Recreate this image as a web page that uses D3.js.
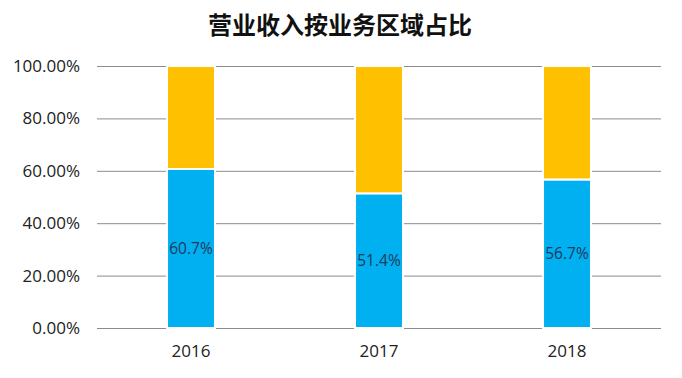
<!DOCTYPE html>
<html>
<head>
<meta charset="utf-8">
<script src="https://cdn.jsdelivr.net/npm/d3@7"></script>
<style>
  body { margin: 0; background: #fff; }
</style>
</head>
<body>
<div id="chart"></div>
<script>
const years = ["2016", "2017", "2018"];
const domestic = [60.7, 51.4, 56.7]; // blue segment, %
const other = [39.3, 48.6, 43.3];    // orange segment, %
const yTicks = [0, 20, 40, 60, 80, 100];

(function draw(){
    const width = 682,
          height = 378,
          margin = ({ top: 66, right: 21, bottom: 50, left: 97 });

    const data = years.map((y, i) => ({ year: y, a: domestic[i], b: other[i] }));

    let svg = d3.select("#chart")
        .append("svg")
        .attr("width", width)
        .attr("height", height);

    let x = d3.scaleBand()
        .domain(years)
        .range([margin.left, width - margin.right])
        .paddingInner(0.745)
        .paddingOuter(0.3725);

    let y = d3.scaleLinear()
        .domain([0, 100])
        .range([height - margin.bottom, margin.top]);

    // title
    svg.append("text")
        .attr("x", 340)
        .attr("y", 34)
        .attr("text-anchor", "middle")
        .style("font-family", "'Noto Sans CJK SC'")
        .style("font-weight", "bold")
        .style("font-size", "24px")
        .style("fill", "#111")
        .text("营业收入按业务区域占比");

    // gridlines + y labels
    let yAxis = svg.append("g")
        .attr("transform", `translate(${margin.left},0)`)
        .call(d3.axisLeft(y).tickValues(yTicks)
            .tickSize(-(width - margin.left - margin.right))
            .tickPadding(17)
            .tickFormat(d => d.toFixed(2) + "%"));
    yAxis.select(".domain").remove();
    yAxis.selectAll(".tick line").attr("stroke", "#8c8c8c");
    yAxis.selectAll(".tick text")
        .style("font-family", "'Open Sans'")
        .style("font-size", "17px")
        .style("fill", "#222");

    // x labels
    let xAxis = svg.append("g")
        .attr("transform", `translate(0,${height - margin.bottom})`)
        .call(d3.axisBottom(x).tickSize(0).tickPadding(17));
    xAxis.select(".domain").remove();
    xAxis.selectAll(".tick text")
        .style("font-family", "'Open Sans'")
        .style("font-size", "17px")
        .style("fill", "#222");

    let bar = svg.selectAll(".bar")
        .data(data)
        .join("g")
        .attr("class", "bar");

    bar.append("rect")
        .attr("fill", "#00B0F0")
        .attr("stroke", "#fff")
        .attr("stroke-width", 2)
        .attr("x", d => x(d.year))
        .attr("width", x.bandwidth())
        .attr("y", d => y(d.a))
        .attr("height", d => y(0) - y(d.a));

    bar.append("rect")
        .attr("fill", "#FFC000")
        .attr("stroke", "#fff")
        .attr("stroke-width", 2)
        .attr("x", d => x(d.year))
        .attr("width", x.bandwidth())
        .attr("y", d => y(d.a + d.b))
        .attr("height", d => y(d.a) - y(d.a + d.b));

    bar.append("text")
        .text(d => d.a.toFixed(1) + "%")
        .attr("x", d => x(d.year) + x.bandwidth() / 2)
        .attr("y", d => y(d.a / 2))
        .attr("dy", "0.35em")
        .attr("text-anchor", "middle")
        .style("font-family", "'Open Sans'")
        .style("font-size", "15.5px")
        .style("fill", "#1f3a5c");
})();
</script>
</body>
</html>
